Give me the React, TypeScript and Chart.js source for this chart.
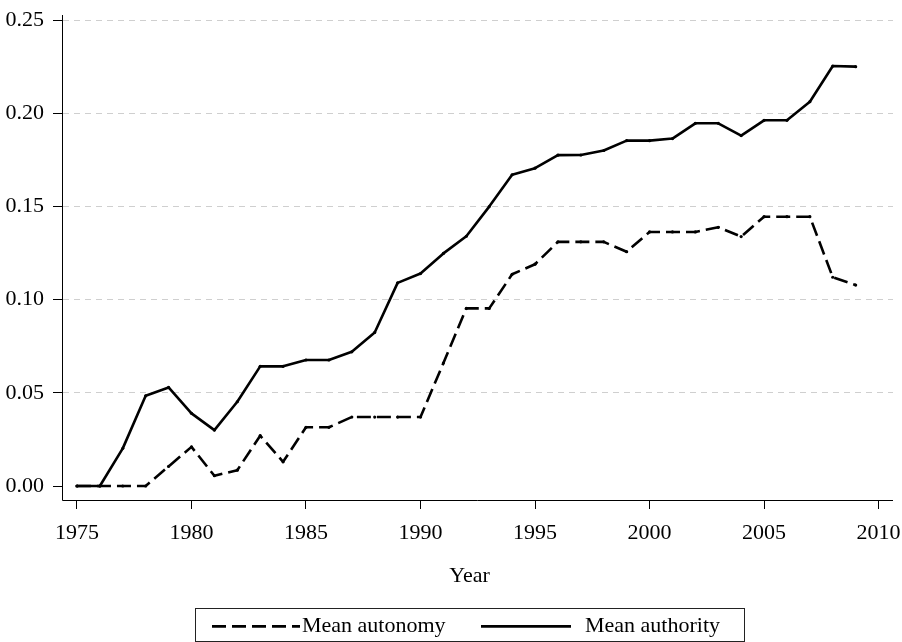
import { useEffect, useRef } from 'react';
import { Chart, registerables } from 'chart.js';

Chart.register(...registerables);

const years = [
  1975, 1976, 1977, 1978, 1979, 1980, 1981, 1982, 1983, 1984,
  1985, 1986, 1987, 1988, 1989, 1990, 1991, 1992, 1993, 1994,
  1995, 1996, 1997, 1998, 1999, 2000, 2001, 2002, 2003, 2004,
  2005, 2006, 2007, 2008, 2009,
];

const meanAutonomy = [
  0, 0, 0, 0, 0.0105, 0.021, 0.0055, 0.0085, 0.027, 0.013,
  0.0315, 0.0315, 0.037, 0.037, 0.037, 0.037, 0.066, 0.0953, 0.0953, 0.1136,
  0.119, 0.131, 0.131, 0.131, 0.1257, 0.1363, 0.1363, 0.1363, 0.1388, 0.1338,
  0.1445, 0.1445, 0.1445, 0.112, 0.1078,
];

const meanAuthority = [
  0, 0, 0.0202, 0.0484, 0.0529, 0.039, 0.030, 0.0452, 0.0642, 0.0642,
  0.0676, 0.0676, 0.072, 0.0824, 0.109, 0.114, 0.1248, 0.134, 0.1499, 0.167,
  0.1705, 0.1775, 0.1776, 0.180, 0.1853, 0.1853, 0.1864, 0.1946, 0.1946, 0.188,
  0.1962, 0.1962, 0.2062, 0.2253, 0.225,
];

const seriesLabels = ['Mean autonomy', 'Mean authority'];
const xTickValues = [1975, 1980, 1985, 1990, 1995, 2000, 2005, 2010];
const yTickValues = [0, 0.05, 0.1, 0.15, 0.2, 0.25];
const xAxisTitle = 'Year';

const FONT = "'Liberation Serif', 'Times New Roman', serif";
const DASH = [14, 6];

const decorPlugin = {
  id: 'stataDecor',
  afterDraw(chart: any) {
    const { ctx, chartArea } = chart;
    ctx.save();
    ctx.setLineDash([]);
    ctx.strokeStyle = '#000';
    ctx.lineWidth = 1;
    const L = Math.round(chartArea.left) - 0.5;
    const B = Math.round(chartArea.bottom) + 0.5;
    ctx.beginPath();
    ctx.moveTo(L, chartArea.top);
    ctx.lineTo(L, B);
    ctx.lineTo(chartArea.right, B);
    ctx.stroke();

    // axis title
    ctx.fillStyle = '#000';
    ctx.font = `22px ${FONT}`;
    ctx.textAlign = 'center';
    ctx.textBaseline = 'alphabetic';
    ctx.fillText(xAxisTitle, 469.5, 582);

    // legend box
    ctx.strokeStyle = '#222';
    ctx.lineWidth = 1;
    ctx.strokeRect(195.5, 608.5, 549, 33);

    const ds = chart.data.datasets;
    const items = [
      { sx: 212, ex: 300, tx: 302, d: ds[0] },
      { sx: 481, ex: 571, tx: 585, d: ds[1] },
    ];
    ctx.textAlign = 'left';
    for (const it of items) {
      ctx.save();
      ctx.strokeStyle = '#000';
      ctx.lineWidth = 2.7;
      ctx.lineCap = 'butt';
      ctx.setLineDash(it.d.borderDash || []);
      ctx.beginPath();
      ctx.moveTo(it.sx, 626.3);
      ctx.lineTo(it.ex, 626.3);
      ctx.stroke();
      ctx.restore();
      ctx.fillText(it.d.label, it.tx, 632);
    }
    ctx.restore();
  },
};

export default function App() {
  const ref = useRef<HTMLCanvasElement | null>(null);

  useEffect(() => {
    if (!ref.current) return;
    const chart = new Chart(ref.current, {
      type: 'line',
      data: {
        datasets: [
          {
            label: seriesLabels[0],
            data: years.map((y, i) => ({ x: y, y: meanAutonomy[i] })),
            borderColor: '#000',
            backgroundColor: '#000',
            borderWidth: 2.6,
            borderDash: DASH,
            borderCapStyle: 'butt',
            borderJoinStyle: 'round',
            pointRadius: 1.6,
            pointBorderWidth: 0,
            pointBackgroundColor: '#000',
            tension: 0,
            fill: false,
          },
          {
            label: seriesLabels[1],
            data: years.map((y, i) => ({ x: y, y: meanAuthority[i] })),
            borderColor: '#000',
            backgroundColor: '#000',
            borderWidth: 2.6,
            borderCapStyle: 'butt',
            borderJoinStyle: 'round',
            pointRadius: 1.6,
            pointBorderWidth: 0,
            pointBackgroundColor: '#000',
            tension: 0,
            fill: false,
          },
        ],
      },
      options: {
        responsive: false,
        animation: false,
        devicePixelRatio: 1,
        layout: { padding: { left: 0, top: 15, right: 9, bottom: 0 } },
        plugins: {
          legend: { display: false },
          tooltip: { enabled: false },
        },
        font: { family: FONT },
        scales: {
          x: {
            type: 'linear',
            min: 1974.39,
            max: 2010.63,
            afterBuildTicks: (axis: any) => {
              axis.ticks = xTickValues.map((v) => ({ value: v }));
            },
            afterFit: (axis: any) => {
              axis.height = 142;
              axis.paddingLeft = 0;
              axis.paddingRight = 0;
            },
            ticks: {
              autoSkip: false,
              maxRotation: 0,
              padding: 11,
              color: '#000',
              font: { family: FONT, size: 22 },
              callback: (v: any) => String(v),
            },
            grid: {
              drawOnChartArea: false,
              drawTicks: true,
              tickLength: 9,
              tickColor: '#000',
              tickWidth: 1,
            },
            border: { display: false },
          },
          y: {
            type: 'linear',
            min: -0.0075,
            max: 0.2527,
            afterBuildTicks: (axis: any) => {
              axis.ticks = yTickValues.map((v) => ({ value: v }));
            },
            afterFit: (axis: any) => {
              axis.width = 63;
              axis.paddingTop = 0;
              axis.paddingBottom = 0;
            },
            ticks: {
              autoSkip: false,
              padding: 9,
              color: '#000',
              font: { family: FONT, size: 22 },
              callback: (v: any) => Number(v).toFixed(2),
            },
            grid: {
              color: (c: any) => (c.tick && c.tick.value === 0 ? 'rgba(0,0,0,0)' : '#cfcfcf'),
              lineWidth: 1,
              drawTicks: true,
              tickLength: 10,
              tickColor: '#000',
              tickWidth: 1,
              tickBorderDash: [],
            },
            border: { display: false, dash: [6, 5] },
          },
        },
      },
      plugins: [decorPlugin],
    } as any);
    return () => chart.destroy();
  }, []);

  return (
    <div style={{ position: 'fixed', left: 0, top: 0, width: 902, height: 642, background: '#fff' }}>
      <canvas ref={ref} width={902} height={642} style={{ width: 902, height: 642, display: 'block' }} />
    </div>
  );
}
